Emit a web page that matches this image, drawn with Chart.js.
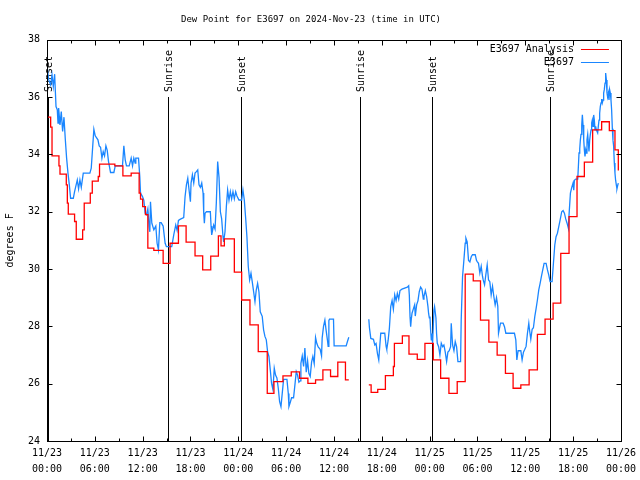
<!DOCTYPE html>
<html>
<head>
<meta charset="utf-8">
<script src="https://cdn.jsdelivr.net/npm/chart.js@4"></script>
<style>
  body { margin: 0; background: #fff; }
  #wrap { width: 640px; height: 480px; }
</style>
</head>
<body>
<div id="wrap"><canvas id="dew" width="640" height="480"></canvas></div>
<script>
// hours since 11/23 00:00 UTC
const titleText = "Dew Point for E3697 on 2024-Nov-23 (time in UTC)";
const startMonth = 11;
const startDay = 23;

const sunLabels = ["Sunset", "Sunrise", "Sunset", "Sunrise", "Sunset", "Sunrise"];
const sunHours = [0.13, 15.2, 24.33, 39.24, 48.25, 63.15];
const sunLineTop = 36;

// E3697 Analysis (stepped)
const redHours = [
  0, 0.46, 0.63, 1.5, 1.63, 2.42, 2.55, 2.67, 3.46, 3.67,
  4.47, 4.67, 5.43, 5.68, 6.43, 6.59, 8.51, 9.52, 10.56, 11.56,
  11.73, 12.0, 12.35, 12.65, 13.4, 14.57, 15.44, 16.49, 17.45, 18.57,
  19.53, 20.54, 21.5, 21.83, 22.25, 23.5, 24.42, 25.46, 26.5, 27.63,
  28.47, 29.6, 30.64, 31.68, 32.73, 33.69, 34.61, 35.57, 36.48, 37.44,
  37.86, 39.0, 40.37, 40.66, 41.49, 42.45, 43.45, 43.58, 44.58, 45.41,
  46.45, 47.41, 48.46, 49.38, 50.42, 51.46, 52.46, 53.47, 54.38, 55.43,
  56.47, 57.51, 58.47, 59.44, 60.48, 61.52, 62.48, 63.49, 64.45, 65.49,
  66.49, 67.41, 68.45, 69.58, 70.54, 71.25, 71.67, 71.75
];
const redTemps = [
  35.3, 34.95, 33.95, 33.6, 33.31, 32.94, 32.3, 31.92, 31.66, 31.04,
  31.37, 32.3, 32.65, 33.07, 33.23, 33.66, 33.6, 33.25, 33.35, 32.65,
  32.44, 32.18, 31.9, 30.73, 30.65, 30.2, 30.9, 31.51, 30.94, 30.46,
  29.97, 30.45, 31.16, 30.81, 31.05, 29.89, 28.92, 28.05, 27.12, 25.66,
  26.07, 26.27, 26.41, 26.19, 26.01, 26.13, 26.48, 26.25, 26.75, 26.13,
  26.13, null, 25.96, 25.7, 25.8, 26.28, 26.6, 27.41, 27.67, 27.03,
  26.85, 27.41, 26.83, 26.19, 25.66, 26.07, 29.82, 29.59, 28.22, 27.45,
  27.0, 26.36, 25.84, 25.96, 26.48, 27.72, 28.25, 28.81, 30.55, 31.83,
  33.23, 33.73, 34.86, 35.14, 34.83, 34.16, 33.46, 33.46
];

// E3697 observations
const blueHours = [
  0, 0.04, 0.21, 0.46, 0.63, 0.79, 0.96, 1.04, 1.13, 1.29,
  1.38, 1.46, 1.63, 1.79, 1.96, 2.13, 2.30, 2.46, 2.63, 2.80,
  2.96, 3.30, 3.46, 3.80, 3.96, 4.13, 4.30, 4.55, 5.38, 5.55,
  5.72, 5.88, 6.05, 6.39, 6.55, 6.72, 6.89, 7.05, 7.22, 7.39,
  7.55, 7.72, 7.97, 8.39, 8.56, 9.47, 9.64, 9.81, 9.97, 10.31,
  10.56, 10.73, 10.89, 11.06, 11.14, 11.48, 11.64, 11.73, 11.98, 12.15,
  12.31, 12.48, 12.65, 12.81, 12.90, 12.98, 13.15, 13.40, 13.65, 13.81,
  13.98, 14.15, 14.32, 14.57,
  14.82, 14.98, 15.65, 15.90, 16.15, 16.32, 16.49, 16.74, 17.15, 17.32,
  17.49, 17.66, 17.82, 17.99, 18.07, 18.24, 18.41, 18.57, 18.74, 18.91,
  19.07, 19.24, 19.41, 19.58, 19.66, 19.74, 19.83, 20.0, 20.49, 20.58,
  20.66, 20.91, 21.08, 21.24, 21.41, 21.58, 21.75, 21.91, 22.08, 22.16,
  22.33, 22.50, 22.66, 22.83, 23.0, 23.16, 23.33, 23.50, 23.67, 23.83,
  24.08, 24.42, 24.58, 24.75, 24.92, 25.08, 25.25, 25.42, 25.59, 25.75,
  25.92, 26.09, 26.25, 26.42, 26.59, 26.75, 27.0, 27.17, 27.34, 27.51,
  27.67, 27.84, 28.01, 28.17, 28.34, 28.51, 28.67, 28.84, 29.01,
  29.18, 29.35, 29.51, 29.68, 30.10, 30.27, 30.35, 30.52, 30.68, 30.93,
  31.10, 31.27, 31.43, 31.60, 31.77, 31.85, 32.02, 32.19, 32.35, 32.52,
  32.69, 32.85, 33.02, 33.19, 33.35, 33.52, 33.69, 33.85, 34.02, 34.27,
  34.44, 34.52, 34.69, 34.86, 35.02, 35.19, 35.27, 35.36, 35.44, 35.94,
  36.02, 37.53, 37.69, 37.86,
  39.0,
  40.37, 40.45, 40.62, 40.95, 41.12, 41.28, 41.45, 41.62, 41.70, 41.87,
  42.37, 42.54, 42.62, 42.79, 42.95, 43.12, 43.29, 43.45, 43.62, 43.79,
  43.95, 44.12, 44.28, 44.53, 45.20, 45.37, 45.45, 45.54, 45.62, 45.70,
  45.79, 45.95, 46.12, 46.20, 46.37, 46.54, 46.70, 46.87, 47.04, 47.21,
  47.29, 47.46, 47.62, 47.79, 47.87, 47.96, 48.04, 48.12, 48.21, 48.29,
  48.37, 48.54, 48.62, 48.79, 48.87, 48.96, 49.13, 49.29, 49.46, 49.63,
  49.79, 49.96, 50.13, 50.29, 50.46, 50.63, 50.71, 50.88, 51.05, 51.21,
  51.38, 51.55, 51.88, 51.96, 52.13, 52.30, 52.46, 52.55, 52.71, 52.88,
  53.05, 53.22, 53.38, 53.72, 53.88, 53.97, 54.13, 54.30, 54.47, 54.63,
  54.72, 54.89, 55.05, 55.22, 55.39, 55.55, 55.72, 55.89, 56.05, 56.22,
  56.39, 56.55, 56.64, 56.80, 56.89, 57.22, 57.39, 57.56, 58.64, 58.81,
  58.94, 59.10, 59.44, 59.60, 59.77, 59.94, 60.10, 60.27, 60.44, 60.52,
  60.69, 60.86, 61.02, 61.19, 61.36, 61.52, 61.69, 61.86, 62.03, 62.19,
  62.36, 62.61, 62.78, 62.94, 63.11, 63.36, 63.53, 63.70, 63.86, 64.03,
  64.20, 64.36, 64.57, 64.74, 64.91, 65.07, 65.24, 65.41, 65.49, 65.66,
  65.83, 65.99, 66.08, 66.16, 66.33, 66.58, 66.66, 66.74, 66.83, 66.91,
  66.99, 67.08, 67.16, 67.24, 67.33, 67.41, 67.49, 67.58, 67.66, 67.74,
  67.83, 67.91, 67.99, 68.08, 68.16, 68.25, 68.33, 68.41, 68.50, 68.58,
  68.66, 68.75, 68.83, 68.91, 69.08, 69.16, 69.25, 69.33, 69.41, 69.50,
  69.58, 69.66, 69.75, 69.83, 69.91, 70.0, 70.08, 70.17, 70.25, 70.33,
  70.42, 70.50, 70.58, 70.67, 70.75, 70.83, 70.92, 71.0, 71.08, 71.17,
  71.25, 71.33, 71.42, 71.50, 71.58, 71.67
];
const blueTemps = [
  37.68, 37.01, 36.61, 36.43, 36.78, 36.37, 36.8, 36.26, 35.67, 35.56,
  35.09, 35.62, 35.03, 35.5, 34.8, 35.3, 34.51, 33.87, 33.35, 32.94,
  32.47, 32.47, 32.7, 33.11, 32.8, 33.11, 32.85, 33.35, 33.35, 33.52,
  34.22, 34.88, 34.65, 34.51, 34.3, 34.25, 33.87, 34.1, 33.95, 34.3,
  34.15, 33.75, 33.37, 33.37, 33.6, 33.6, 34.3, 33.81, 33.6, 33.6,
  33.87, 33.6, 33.87, 33.7, 33.87, 33.87, 33.23, 32.65, 32.53, 32.4,
  31.95, 31.9, 32.1, 31.48, 31.3, 32.35, 31.6, 31.37, 31.5, 30.9,
  30.67, 31.62, 31.62, 31.5,
  30.9, 30.78, 30.78, 31.19, 31.54, 31.35, 31.7, 31.74, 31.8, 32.53,
  32.94, 33.17, 32.76, 32.35, 33.0, 33.29, 33.0, 33.35, 33.4, 33.46,
  32.94, 32.85, 33.0, 32.65, 31.95, 31.6, 31.95, 32.0, 32.0, 31.5,
  31.19, 31.54, 31.4, 32.3, 33.75, 33.2, 32.0, 31.75, 31.13, 30.95,
  31.3, 32.18, 32.76, 32.4, 32.7, 32.45, 32.7, 32.45, 32.7, 32.55,
  32.41, 32.41, 32.76, 32.41, 31.78, 31.13, 30.09, 29.62, 29.85, 29.55,
  29.21, 28.86, 29.27, 29.5, 29.2, 28.51, 28.35, 27.88, 27.65, 27.53,
  27.12, 26.95, 26.48, 26.01, 25.8, 26.54, 26.3, 26.2, 25.85,
  25.37, 25.2, 25.66, 26.15, 26.15, 25.66, 25.2, 25.35, 25.51, 25.51,
  25.96, 26.42, 26.3, 26.05, 26.1, 26.71, 26.97, 26.6, 27.24, 26.4,
  26.8, 26.36, 26.25, 26.75, 26.95, 26.7, 27.61, 27.4, 27.28, 27.2,
  26.97, 27.6, 28.0, 28.22, 27.85, 27.5, 27.3, 28.2, 28.25, 28.25,
  27.32, 27.32, 27.47, 27.62,
  null,
  28.25, 27.95, 27.58, 27.55, 27.35, 27.4, 27.06, 26.83, 27.15, 27.76,
  27.76, 27.3, 27.2, 27.5, 27.93, 28.69, 28.9, 28.6, 29.1, 28.9,
  29.15, 28.95, 29.25, 29.3, 29.37, 29.42, 29.1, 28.34, 27.99, 28.25,
  28.46, 28.6, 28.75, 28.36, 28.75, 28.9, 29.21, 29.37, 29.3, 28.95,
  29.05, 29.25, 29.05, 28.69, 28.45, 28.3, 28.34, 27.88, 27.53, 27.75,
  27.41, 28.57, 28.69, 28.3, 27.75, 27.41, 27.29, 27.0, 27.41, 27.29,
  27.35, 27.1, 26.77, 27.1, 27.15, 27.29, 28.11, 27.35, 27.15, 27.47,
  27.29, 26.77, 26.77, 28.22, 29.74, 30.32, 30.9, 31.08, 30.95, 30.3,
  30.25, 30.43, 30.5, 30.5, 30.3, 30.26, 30.2, 29.86, 30.1, 29.75,
  29.62, 29.45, 29.8, 30.15, 29.62, 29.56, 29.1, 29.4, 29.05, 28.75,
  29.0, 28.7, 27.76, 27.99, 28.11, 28.11, 27.99, 27.76, 27.76, 27.53,
  26.83, 27.15, 27.15, 26.83, 27.1, 27.2, 27.3, 27.76, 28.11, 27.9,
  27.55, 27.9, 27.95, 28.34, 28.63, 28.92, 29.27, 29.5, 29.75, 29.97,
  30.2, 30.2, 29.97, 29.8, 29.56, 29.56, 30.2, 30.84, 31.13, 31.25,
  31.48, 31.7, 32.0, 32.04, 31.95, 31.75, 31.6, 31.42, 31.9, 32.65,
  32.85, 33.0, 32.75, 33.1, 33.14, 33.14, 33.58, 34.05, 34.2, 34.51,
  34.7, 35.03, 35.38, 35.03, 34.51, 34.16, 33.93, 34.16, 34.05, 34.51,
  34.7, 34.4, 34.1, 34.51, 34.7, 34.86, 35.1, 35.2, 34.98, 35.38,
  35.2, 34.86, 34.98, 34.86, 34.75, 34.98, 35.2, 35.44, 35.67, 35.8,
  35.93, 35.8, 35.9, 36.14, 36.26, 36.49, 36.84, 36.6, 36.14, 36.0,
  36.14, 35.9, 36.26, 36.14, 35.9, 35.56, 34.9, 34.5, 34.3, 33.7,
  33.35, 33.1, 32.94, 32.8, 32.9, 33.0
];

const seriesNames = ["E3697 Analysis", "E3697"];
const seriesColors = ["#ff0000", "#1a86ff"];

const mono = "'DejaVu Sans Mono', monospace";
Chart.defaults.font.family = mono;
Chart.defaults.font.size = 10;
Chart.defaults.color = "#000";

function toPoints(xs, ys) {
    return xs.map((h, i) => ({ x: h, y: ys[i] }));
}

function tickLabel(h) {
    const day = startDay + Math.floor(h / 24);
    const hh = String(h % 24).padStart(2, "0");
    return [startMonth + "/" + day, hh + ":00"];
}

// frame, inward ticks, sunrise/sunset markers and the legend, gnuplot style
const gnuplotBits = {
    id: "gnuplotBits",
    beforeDatasetsDraw(chart) {
        const { ctx, chartArea: a, scales: { x, y } } = chart;
        ctx.save();
        ctx.strokeStyle = "#000";
        ctx.lineWidth = 1;
        ctx.fillStyle = "#000";
        ctx.font = "10px " + mono;
        sunHours.forEach((h, i) => {
            const px = Math.round(x.getPixelForValue(h)) + 0.5;
            const top = Math.round(y.getPixelForValue(sunLineTop));
            ctx.beginPath();
            ctx.moveTo(px, top);
            ctx.lineTo(px, a.bottom);
            ctx.stroke();
            ctx.save();
            ctx.translate(px + 1, top - 5);
            ctx.rotate(-Math.PI / 2);
            ctx.textAlign = "left";
            ctx.textBaseline = "middle";
            ctx.fillText(sunLabels[i], 0, 0);
            ctx.restore();
        });
        ctx.restore();
    },
    afterDatasetsDraw(chart) {
        const { ctx, chartArea: a, scales: { x, y } } = chart;
        ctx.save();
        ctx.strokeStyle = "#000";
        ctx.lineWidth = 1;
        const L = Math.round(a.left) + 0.5, R = Math.round(a.right) + 0.5;
        const T = Math.round(a.top) + 0.5, B = Math.round(a.bottom) + 0.5;
        ctx.strokeRect(L, T, R - L, B - T);

        ctx.beginPath();
        for (let h = 0; h <= 72; h += 3) {
            const px = Math.round(x.getPixelForValue(h)) + 0.5;
            const len = h % 6 === 0 ? 5 : 3;
            ctx.moveTo(px, B); ctx.lineTo(px, B - len);
            ctx.moveTo(px, T); ctx.lineTo(px, T + len);
        }
        for (let v = 24; v <= 38; v += 2) {
            const py = Math.round(y.getPixelForValue(v)) + 0.5;
            ctx.moveTo(L, py); ctx.lineTo(L + 5, py);
            ctx.moveTo(R, py); ctx.lineTo(R - 5, py);
        }
        ctx.stroke();

        // legend, top right
        ctx.font = "10px " + mono;
        ctx.textAlign = "right";
        ctx.textBaseline = "middle";
        seriesNames.forEach((name, i) => {
            const ly = Math.round(a.top + 9 + i * 13) + 0.5;
            ctx.fillStyle = "#000";
            ctx.fillText(name, a.right - 47, ly);
            ctx.strokeStyle = seriesColors[i];
            ctx.beginPath();
            ctx.moveTo(a.right - 40, ly);
            ctx.lineTo(a.right - 12, ly);
            ctx.stroke();
        });
        ctx.restore();
    }
};

const ctx = document.getElementById("dew").getContext("2d");
new Chart(ctx, {
    type: "line",
    data: {
        datasets: [
            {
                label: seriesNames[0],
                data: toPoints(redHours, redTemps),
                borderColor: seriesColors[0],
                borderWidth: 1.3,
                pointRadius: 0,
                stepped: "before",
                spanGaps: false,
                fill: false
            },
            {
                label: seriesNames[1],
                data: toPoints(blueHours, blueTemps),
                borderColor: seriesColors[1],
                borderWidth: 1.3,
                pointRadius: 0,
                tension: 0,
                spanGaps: false,
                fill: false
            }
        ]
    },
    options: {
        responsive: false,
        animation: false,
        layout: { padding: { left: 0, right: 18, top: 0, bottom: 0 } },
        plugins: {
            legend: { display: false },
            tooltip: { enabled: false },
            title: {
                display: true,
                text: titleText,
                color: "#000",
                font: { family: mono, size: 9, weight: "normal" },
                padding: { top: 14, bottom: 15 }
            }
        },
        scales: {
            x: {
                type: "linear",
                position: "bottom",
                min: 0,
                max: 72,
                grid: { display: false, drawTicks: false },
                border: { display: false },
                ticks: {
                    stepSize: 6,
                    autoSkip: false,
                    maxRotation: 0,
                    padding: 4,
                    font: { size: 10, lineHeight: 1.6 },
                    callback: (v) => tickLabel(v)
                },
                afterFit: (scale) => { scale.height = 39; }
            },
            y: {
                min: 24,
                max: 38,
                grid: { display: false, drawTicks: false },
                border: { display: false },
                ticks: { stepSize: 2, padding: 7, font: { size: 10 } },
                title: { display: true, text: "degrees F", font: { size: 10 }, padding: { top: 4, bottom: 4 } },
                afterFit: (scale) => { scale.width = 47; }
            }
        }
    },
    plugins: [gnuplotBits]
});
</script>
</body>
</html>
